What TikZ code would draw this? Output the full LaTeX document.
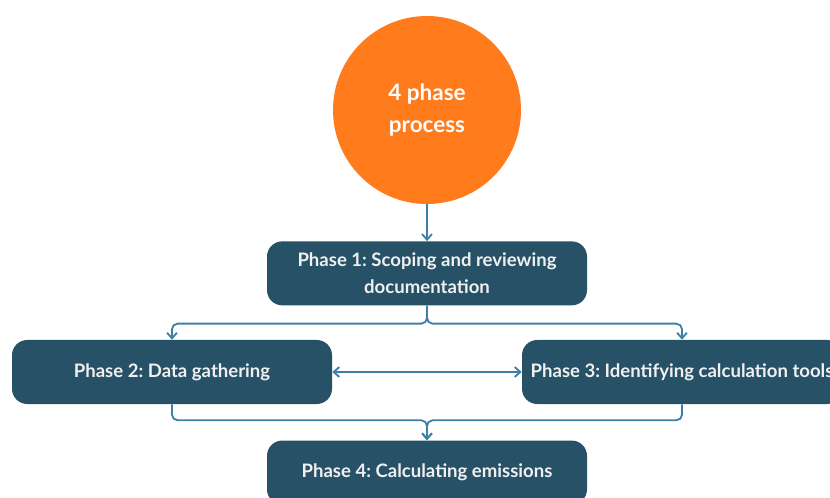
\documentclass[tikz,border=0pt]{standalone}
\usepackage{fontspec}
\setmainfont{Lato}
\usetikzlibrary{positioning,calc,arrows.meta}
\frenchspacing

\definecolor{phaseblue}{HTML}{265166}
\definecolor{linkblue}{HTML}{3E7FA6}
\definecolor{hub}{HTML}{FF7B1C}

\tikzset{
	phase/.style={draw=none, fill=phaseblue, rounded corners=0.38cm, text=white!94!black,
		minimum width=8cm, minimum height=1.6cm, align=center, font=\fontsize{13.2}{19}\selectfont\bfseries},
	link/.style={draw=linkblue, line width=1.3pt, rounded corners=4pt, -{Straight Barb[length=4pt,width=7pt]}},
}

\begin{document}
\begin{tikzpicture}
	\clip (0,0) rectangle (20.75,-12.45);
	\useasboundingbox (0,0) rectangle (20.75,-12.45);

	\node[circle, fill=hub, minimum size=4.7cm, text=white, align=center,
		font=\fontsize{16}{22.7}\selectfont\bfseries] (hub) at (10.675,-2.75) {4 phase\\process};
	\node[phase, below=0.92cm of hub] (p1) {Phase 1: Scoping and reviewing\\documentation};
	\node[phase] (p2) at (4.3,-9.3) {Phase 2: Data gathering};
	\node[phase] (p3) at (17.05,-9.3) {Phase 3: Identifying calculation tools};
	\node[phase, below=0.9cm of p1.south |- p2.south] (p4) {Phase 4: Calculating emissions};

	\coordinate (split) at ($(p1.south)+(0,-0.45)$);
	\coordinate (merge) at ($(p4.north)+(0,0.5)$);

	\draw[link] (hub) -- (p1);
	\draw[link] (p1.south) -- (split) -| (p2.north);
	\draw[link] (p1.south) -- (split) -| (p3.north);
	\draw[link, {Straight Barb[length=4pt,width=7pt]}-{Straight Barb[length=4pt,width=7pt]}] (p2) -- (p3);
	\draw[link] (p2.south) |- (merge) -- (p4.north);
	\draw[link] (p3.south) |- (merge) -- (p4.north);
\end{tikzpicture}
\end{document}
